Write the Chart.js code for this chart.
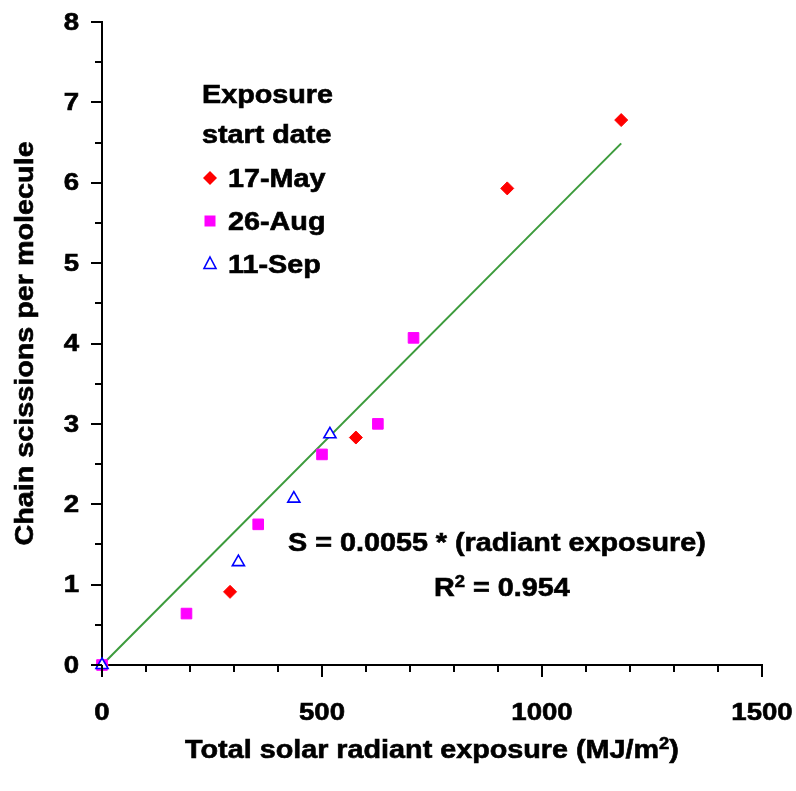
<!DOCTYPE html>
<html>
<head>
<meta charset="utf-8">
<script src="https://cdn.jsdelivr.net/npm/chart.js@4.4.1/dist/chart.umd.min.js"></script>
<style>
    html, body { margin: 0; padding: 0; background: #fff; }
    canvas { display: block; }
</style>
</head>
<body>
<canvas id="chart" width="796" height="791"></canvas>
<script>
// Données
const mayX = [0, 291, 577, 921, 1180];
const mayY = [0, 0.91, 2.83, 5.93, 6.78];
const augX = [0, 192, 355, 500, 627, 708];
const augY = [0, 0.64, 1.75, 2.62, 3.00, 4.07];
const sepX = [0, 310, 436, 518];
const sepY = [0, 1.28, 2.07, 2.87];
const fitX = [0, 1180];
const fitY = [0, 6.49];

const xTickLabels = [0, 500, 1000, 1500];
const yTickLabels = [0, 1, 2, 3, 4, 5, 6, 7, 8];
const legendLabels = ['17-May', '26-Aug', '11-Sep'];

const FONT = '"Liberation Sans", Arial, sans-serif';
const SX = 1.15; // police un peu plus large que Arial

function points(xs, ys) {
    return xs.map(function (x, i) { return { x: x, y: ys[i] }; });
}

// Texte gras élargi horizontalement
function texte(ctx, str, x, y, size, align, baseline, rot) {
    ctx.save();
    ctx.translate(x, y);
    if (rot) ctx.rotate(rot);
    ctx.scale(SX, 1);
    ctx.font = 'bold ' + size + 'px ' + FONT;
    ctx.fillStyle = '#000';
    ctx.strokeStyle = '#000';
    ctx.lineWidth = 0.6;
    ctx.textAlign = align || 'left';
    ctx.textBaseline = baseline || 'alphabetic';
    ctx.fillText(str, 0, 0);
    ctx.strokeText(str, 0, 0);
    ctx.restore();
}

// Texte avec exposant "2" : avant + ² + après, à partir de la gauche
function texteExposant(ctx, avant, apres, x, y, size) {
    ctx.save();
    ctx.font = 'bold ' + size + 'px ' + FONT;
    const w1 = ctx.measureText(avant).width * SX;
    const small = Math.round(size * 0.62);
    ctx.font = 'bold ' + small + 'px ' + FONT;
    const w2 = ctx.measureText('2').width * SX;
    ctx.restore();
    texte(ctx, avant, x, y, size);
    texte(ctx, '2', x + w1, y - size * 0.38, small);
    texte(ctx, apres, x + w1 + w2, y, size);
    return w1 + w2;
}

function largeurExposant(ctx, avant, apres, size) {
    ctx.save();
    ctx.font = 'bold ' + size + 'px ' + FONT;
    const w1 = ctx.measureText(avant).width;
    const w3 = ctx.measureText(apres).width;
    ctx.font = 'bold ' + Math.round(size * 0.62) + 'px ' + FONT;
    const w2 = ctx.measureText('2').width;
    ctx.restore();
    return (w1 + w2 + w3) * SX;
}

function marqueur(ctx, type, x, y) {
    ctx.save();
    ctx.beginPath();
    if (type === 'diamond') {
        ctx.moveTo(x - 7, y); ctx.lineTo(x, y - 7); ctx.lineTo(x + 7, y); ctx.lineTo(x, y + 7);
        ctx.closePath();
        ctx.fillStyle = '#FF0000';
        ctx.fill();
    } else if (type === 'square') {
        ctx.rect(x - 5.5, y - 5.5, 11, 11);
        ctx.fillStyle = '#FF00FF';
        ctx.fill();
    } else {
        ctx.moveTo(x, y - 7); ctx.lineTo(x + 6, y + 4.5); ctx.lineTo(x - 6, y + 4.5);
        ctx.closePath();
        ctx.strokeStyle = '#0000FF';
        ctx.lineWidth = 1.6;
        ctx.stroke();
    }
    ctx.restore();
}

const decor = {
    id: 'decor',
    afterDraw: function (chart) {
        const ctx = chart.ctx;
        const xs = chart.scales.x;
        const ys = chart.scales.y;
        const area = chart.chartArea;

        // Graduations
        ctx.save();
        ctx.strokeStyle = '#000';
        ctx.lineWidth = 2;
        ctx.beginPath();
        for (let v = 0; v <= 1500; v += 100) {
            const px = Math.round(xs.getPixelForValue(v));
            const len = v % 500 === 0 ? 12 : 7;
            ctx.moveTo(px, area.bottom);
            ctx.lineTo(px, area.bottom + len);
        }
        for (let k = 0; k <= 16; k++) {
            const py = Math.round(ys.getPixelForValue(k / 2));
            const len = k % 2 === 0 ? 11 : 7;
            ctx.moveTo(area.left, py);
            ctx.lineTo(area.left - len, py);
        }
        ctx.stroke();
        ctx.restore();

        // Étiquettes des axes
        xTickLabels.forEach(function (v) {
            texte(ctx, String(v), xs.getPixelForValue(v), 713, 24, 'center', 'middle');
        });
        yTickLabels.forEach(function (v) {
            texte(ctx, String(v), 79, ys.getPixelForValue(v) + 1, 24, 'right', 'middle');
        });

        // Titres des axes
        texte(ctx, 'Chain scissions per molecule', 33, (area.top + area.bottom) / 2, 25,
            'center', 'alphabetic', -Math.PI / 2);
        const wt = largeurExposant(ctx, 'Total solar radiant exposure (MJ/m', ')', 25);
        texteExposant(ctx, 'Total solar radiant exposure (MJ/m', ')',
            (area.left + area.right) / 2 - wt / 2, 758, 25);

        // Légende
        texte(ctx, 'Exposure', 202, 103, 25);
        texte(ctx, 'start date', 202, 143, 25);
        const types = ['diamond', 'square', 'triangle'];
        const lignes = [187, 230, 273];
        legendLabels.forEach(function (lab, i) {
            marqueur(ctx, types[i], 210, lignes[i] - 9);
            texte(ctx, lab, 228, lignes[i], 25);
        });

        // Équation de la droite
        texte(ctx, 'S = 0.0055 * (radiant exposure)', 288, 551, 25);
        texteExposant(ctx, 'R', ' = 0.954', 434, 596, 25);
    }
};

new Chart(document.getElementById('chart').getContext('2d'), {
    type: 'scatter',
    data: {
        datasets: [
            {
                label: '11-Sep',
                data: points(sepX, sepY),
                pointStyle: 'triangle',
                pointRadius: 7,
                pointBorderWidth: 1.6,
                borderColor: '#0000FF',
                backgroundColor: '#FFFFFF',
                clip: false,
                order: 1
            },
            {
                label: '26-Aug',
                data: points(augX, augY),
                pointStyle: 'rect',
                pointRadius: 7.5,
                pointBorderWidth: 1,
                borderColor: '#FF00FF',
                backgroundColor: '#FF00FF',
                clip: false,
                order: 2
            },
            {
                label: '17-May',
                data: points(mayX, mayY),
                pointStyle: 'rectRot',
                pointRadius: 6.5,
                pointBorderWidth: 1,
                borderColor: '#FF0000',
                backgroundColor: '#FF0000',
                clip: false,
                order: 3
            },
            {
                type: 'line',
                label: 'fit',
                data: points(fitX, fitY),
                borderColor: '#3C9B3C',
                borderWidth: 2,
                pointRadius: 0,
                fill: false,
                clip: false,
                order: 4
            }
        ]
    },
    options: {
        responsive: false,
        animation: false,
        devicePixelRatio: 1,
        layout: { padding: { top: 22, right: 34, left: 0, bottom: 0 } },
        plugins: {
            legend: { display: false },
            tooltip: { enabled: false }
        },
        scales: {
            x: {
                type: 'linear',
                min: 0,
                max: 1500,
                grid: { display: false, drawTicks: false },
                border: { display: true, color: '#000', width: 2 },
                ticks: { display: false },
                afterFit: function (scale) { scale.height = 126; }
            },
            y: {
                type: 'linear',
                min: 0,
                max: 8,
                grid: { display: false, drawTicks: false },
                border: { display: true, color: '#000', width: 2 },
                ticks: { display: false },
                afterFit: function (scale) { scale.height; scale.width = 102; }
            }
        }
    },
    plugins: [decor]
});
</script>
</body>
</html>
